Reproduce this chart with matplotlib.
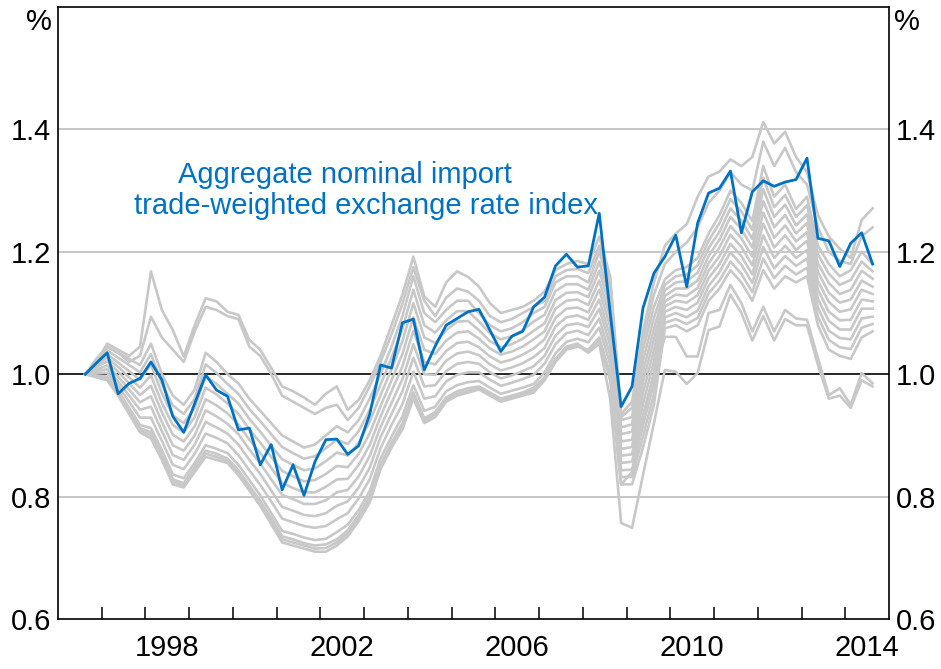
import matplotlib
matplotlib.use('Agg')
import matplotlib.pyplot as plt
import numpy as np
import pandas as pd

plt.rcParams['font.family'] = ['Liberation Sans', 'DejaVu Sans']

# Quarterly observations, 1996Q3 - 2014Q3
quarters = pd.period_range('1996Q3', '2014Q3', freq='Q')

blue = [1.000, 1.018, 1.035, 0.968, 0.985, 0.993, 1.020, 0.991, 0.931, 0.905,
        0.952, 0.999, 0.974, 0.964, 0.909, 0.912, 0.852, 0.885, 0.811, 0.852,
        0.802, 0.857, 0.893, 0.894, 0.869, 0.883, 0.934, 1.015, 1.010, 1.084,
        1.090, 1.007, 1.046, 1.080, 1.091, 1.102, 1.106, 1.072, 1.037, 1.062,
        1.070, 1.110, 1.126, 1.177, 1.196, 1.175, 1.177, 1.263, 1.100, 0.947,
        0.980, 1.108, 1.165, 1.192, 1.227, 1.143, 1.247, 1.296, 1.304, 1.332,
        1.231, 1.298, 1.316, 1.307, 1.314, 1.318, 1.353, 1.222, 1.218, 1.176,
        1.214, 1.231, 1.180]

s1 = [1.000, 1.020, 1.050, 1.040, 1.030, 1.045, 1.168, 1.105, 1.072, 1.029,
      1.080, 1.124, 1.119, 1.102, 1.097, 1.056, 1.040, 1.010, .980, .972,
      .962, .950, .968, .980, .942, .958, .990, 1.030, 1.080, 1.130,
      1.192, 1.127, 1.110, 1.150, 1.168, 1.159, 1.143, 1.116, 1.100, 1.105,
      1.110, 1.120, 1.135, 1.170, 1.180, 1.185, 1.180, 1.225, 1.160, .935,
      .955, 1.070, 1.150, 1.210, 1.230, 1.245, 1.290, 1.323, 1.331, 1.351,
      1.340, 1.355, 1.412, 1.377, 1.396, 1.355, 1.330, 1.260, 1.225, 1.205,
      1.190, 1.252, 1.271]

s2 = [1.000, 1.020, 1.045, 1.035, 1.020, 1.030, 1.094, 1.060, 1.040, 1.020,
      1.070, 1.110, 1.105, 1.095, 1.090, 1.045, 1.030, 1.000, .965, .955,
      .945, .935, .945, .950, .925, .945, .980, 1.020, 1.065, 1.115,
      1.175, 1.120, 1.095, 1.125, 1.140, 1.135, 1.120, 1.095, 1.085, 1.090,
      1.100, 1.110, 1.120, 1.160, 1.170, 1.172, 1.165, 1.210, 1.150, .930,
      .945, 1.055, 1.130, 1.180, 1.200, 1.215, 1.240, 1.280, 1.300, 1.330,
      1.310, 1.300, 1.380, 1.340, 1.370, 1.330, 1.310, 1.240, 1.200, 1.185,
      1.180, 1.225, 1.240]

la = [1.000, .997, .993, .970, .940, .912, .905, .868, .828, .822,
      .848, .875, .870, .862, .843, .818, .793, .765, .735, .730,
      .724, .720, .722, .730, .745, .770, .800, .852, .888, .920,
      .970, .928, .938, .962, .972, .977, .980, .970, .960, .965,
      .970, .978, .995, 1.025, 1.045, 1.050, 1.037, 1.056, .990, .820,
      .840, .920, 1.000, 1.061, 1.061, 1.029, 1.029, 1.100, 1.105, 1.146,
      1.116, 1.070, 1.110, 1.070, 1.105, 1.091, 1.089, 1.026, .966, .977,
      .950, 1.002, .985]

lb = [1.000, .996, .992, .968, .938, .908, .900, .864, .824, .818,
      .844, .870, .865, .858, .839, .814, .789, .760, .730, .725,
      .720, .715, .716, .725, .740, .765, .795, .848, .884, .915,
      .965, .924, .934, .958, .968, .973, .977, .967, .957, .962,
      .967, .974, .992, 1.022, 1.042, 1.047, 1.035, 1.050, .960, .757,
      .749, .835, .920, 1.007, 1.004, .984, 1.002, 1.072, 1.078, 1.130,
      1.100, 1.055, 1.095, 1.055, 1.090, 1.080, 1.080, 1.015, .960, .965,
      .945, .990, .980]

b0 = [1.000, .995, .990, .965, .935, .905, .895, .860, .820, .815,
      .840, .865, .860, .855, .835, .810, .785, .755, .725, .720,
      .715, .710, .710, .720, .735, .760, .790, .845, .880, .910,
      .960, .920, .930, .955, .965, .970, .975, .965, .955, .960,
      .965, .970, .990, 1.020, 1.040, 1.045, 1.040, 1.060, 1.000, .820,
      .820, .880, .950, 1.075, 1.080, 1.070, 1.080, 1.120, 1.140, 1.170,
      1.150, 1.120, 1.170, 1.140, 1.160, 1.150, 1.160, 1.080, 1.040, 1.030,
      1.025, 1.060, 1.070]

b1 = [1.000, .998, .996, .973, .945, .917, .912, .876, .836, .830,
      .855, .884, .878, .871, .852, .827, .802, .773, .744, .739,
      .733, .729, .731, .742, .754, .778, .809, .862, .898, .931,
      .982, .940, .947, .972, .982, .987, .989, .978, .968, .973,
      .978, .984, 1.003, 1.034, 1.053, 1.058, 1.052, 1.076, 1.016, .832,
      .832, .898, .968, 1.084, 1.090, 1.082, 1.092, 1.132, 1.153, 1.184,
      1.164, 1.134, 1.189, 1.157, 1.177, 1.163, 1.174, 1.094, 1.056, 1.044,
      1.041, 1.076, 1.082]

b2 = [1.000, 1.002, 1.002, .981, .955, .929, .929, .891, .852, .845,
      .870, .903, .896, .887, .868, .843, .819, .792, .764, .758,
      .752, .749, .752, .763, .773, .797, .828, .879, .917, .951,
      1.004, .960, .964, .988, .999, 1.003, 1.003, .991, .981, .986,
      .992, .999, 1.017, 1.049, 1.067, 1.071, 1.064, 1.091, 1.031, .843,
      .844, .916, .986, 1.093, 1.100, 1.093, 1.104, 1.144, 1.167, 1.199,
      1.179, 1.149, 1.208, 1.173, 1.193, 1.177, 1.189, 1.109, 1.071, 1.059,
      1.057, 1.091, 1.094]

b3 = [1.000, 1.005, 1.008, .988, .965, .942, .947, .907, .868, .860,
      .885, .922, .913, .903, .885, .860, .837, .810, .783, .777,
      .770, .768, .773, .785, .792, .815, .847, .897, .935, .972,
      1.027, .980, .982, 1.005, 1.017, 1.020, 1.017, 1.003, .993, .998,
      1.005, 1.013, 1.030, 1.063, 1.080, 1.083, 1.077, 1.107, 1.047, .855,
      .857, .933, 1.003, 1.102, 1.110, 1.105, 1.117, 1.157, 1.180, 1.213,
      1.193, 1.163, 1.227, 1.190, 1.210, 1.190, 1.203, 1.123, 1.087, 1.073,
      1.073, 1.107, 1.107]

b4 = [1.000, 1.008, 1.014, .996, .975, .954, .964, .922, .884, .875,
      .900, .941, .931, .919, .902, .877, .854, .828, .803, .796,
      .788, .788, .794, .807, .811, .833, .866, .914, .953, .992,
      1.049, 1.000, .999, 1.022, 1.034, 1.037, 1.031, 1.016, 1.006, 1.011,
      1.018, 1.028, 1.043, 1.078, 1.093, 1.096, 1.089, 1.122, 1.062, .867,
      .869, .951, 1.021, 1.111, 1.120, 1.117, 1.129, 1.169, 1.193, 1.228,
      1.208, 1.178, 1.246, 1.207, 1.227, 1.203, 1.218, 1.138, 1.102, 1.088,
      1.089, 1.122, 1.119]

b5 = [1.000, 1.012, 1.021, 1.004, .985, .966, .981, .938, .901, .890,
      .915, .959, .949, .936, .918, .893, .871, .847, .822, .814,
      .807, .807, .816, .828, .829, .852, .884, .931, .972, 1.013,
      1.071, 1.020, 1.016, 1.038, 1.051, 1.053, 1.044, 1.029, 1.019, 1.024,
      1.032, 1.042, 1.057, 1.092, 1.107, 1.109, 1.101, 1.138, 1.078, .878,
      .881, .969, 1.039, 1.119, 1.130, 1.128, 1.141, 1.181, 1.207, 1.242,
      1.222, 1.192, 1.264, 1.223, 1.243, 1.217, 1.232, 1.152, 1.118, 1.102,
      1.106, 1.138, 1.131]

b6 = [1.000, 1.015, 1.027, 1.012, .995, .978, .998, .953, .917, .905,
      .930, .978, .967, .952, .935, .910, .888, .865, .842, .833,
      .825, .827, .837, .850, .848, .870, .903, .948, .990, 1.033,
      1.093, 1.040, 1.033, 1.055, 1.068, 1.070, 1.058, 1.042, 1.032, 1.037,
      1.045, 1.057, 1.070, 1.107, 1.120, 1.122, 1.113, 1.153, 1.093, .890,
      .893, .987, 1.057, 1.128, 1.140, 1.140, 1.153, 1.193, 1.220, 1.257,
      1.237, 1.207, 1.283, 1.240, 1.260, 1.230, 1.247, 1.167, 1.133, 1.117,
      1.122, 1.153, 1.143]

b7 = [1.000, 1.018, 1.033, 1.019, 1.005, .991, 1.016, .969, .933, .920,
      .945, .997, .984, .968, .952, .927, .906, .883, .861, .852,
      .843, .846, .858, .872, .867, .888, .922, .966, 1.008, 1.054,
      1.116, 1.060, 1.051, 1.072, 1.086, 1.087, 1.072, 1.054, 1.044, 1.049,
      1.058, 1.071, 1.083, 1.121, 1.133, 1.134, 1.126, 1.169, 1.109, .902,
      .906, 1.004, 1.074, 1.137, 1.150, 1.152, 1.166, 1.206, 1.233, 1.271,
      1.251, 1.221, 1.302, 1.257, 1.277, 1.243, 1.261, 1.181, 1.149, 1.131,
      1.138, 1.169, 1.156]

b8 = [1.000, 1.022, 1.039, 1.027, 1.015, 1.003, 1.033, .984, .949, .935,
      .960, 1.016, 1.002, .984, .968, .943, .923, .902, .881, .871,
      .862, .866, .879, .893, .886, .907, .941, .983, 1.027, 1.074,
      1.138, 1.080, 1.068, 1.088, 1.103, 1.103, 1.086, 1.067, 1.057, 1.062,
      1.072, 1.086, 1.097, 1.136, 1.147, 1.147, 1.138, 1.184, 1.124, .913,
      .918, 1.022, 1.092, 1.146, 1.160, 1.163, 1.178, 1.218, 1.247, 1.286,
      1.266, 1.236, 1.321, 1.273, 1.293, 1.257, 1.276, 1.196, 1.164, 1.146,
      1.154, 1.184, 1.168]

b9 = [1.000, 1.025, 1.045, 1.035, 1.025, 1.015, 1.050, 1.000, .965, .950,
      .975, 1.035, 1.020, 1.000, .985, .960, .940, .920, .900, .890,
      .880, .885, .900, .915, .905, .925, .960, 1.000, 1.045, 1.095,
      1.160, 1.100, 1.085, 1.105, 1.120, 1.120, 1.100, 1.080, 1.070, 1.075,
      1.085, 1.100, 1.110, 1.150, 1.160, 1.160, 1.150, 1.200, 1.140, .925,
      .930, 1.040, 1.110, 1.155, 1.170, 1.175, 1.190, 1.230, 1.260, 1.300,
      1.280, 1.250, 1.340, 1.290, 1.310, 1.270, 1.290, 1.210, 1.180, 1.160,
      1.170, 1.200, 1.180]

grey_series = [s1, s2, la, lb, b0, b1, b2, b3, b4, b5, b6, b7, b8, b9]

year_labels = ['1998', '2002', '2006', '2010', '2014']
y_ticks = [0.6, 0.8, 1.0, 1.2, 1.4]
y_labels = ['0.6', '0.8', '1.0', '1.2', '1.4']
annotation = ['Aggregate nominal import', 'trade-weighted exchange rate index']

# ---- drawing ----
t = np.asarray(quarters.year + (quarters.quarter - 1) * 0.25 + 0.125, dtype=float)

W, H = 941, 669
fig = plt.figure(figsize=(W / 100, H / 100), dpi=100)
ax = fig.add_axes([58 / W, 50 / H, 831 / W, 612 / H])
ax.set_xlim(1996, 2015)
ax.set_ylim(0.6, 1.6)

for yv in [0.8, 1.2, 1.4]:
    ax.axhline(yv, color='#bdbdbd', lw=1.2, zorder=1)
ax.axhline(1.0, color='black', lw=1.2, zorder=1)

for g in grey_series:
    ax.plot(t, g, color='#c8c8c8', lw=1.9, zorder=2)
ax.plot(t, blue, color='#0072C6', lw=2.0, zorder=3)

fs = 21
ax.set_xticks([int(l) + 0.5 for l in year_labels])
ax.set_xticklabels(year_labels, fontsize=fs)
ax.set_xticks(np.arange(1997, 2015), minor=True)
ax.tick_params(axis='x', which='major', length=0, pad=11)
ax.tick_params(axis='x', which='minor', direction='in', length=8.5, width=1.1, color='black')

ax.set_yticks(y_ticks)
ax.set_yticklabels(y_labels, fontsize=fs)
ax.tick_params(axis='y', which='both', length=0, pad=5, labelleft=True, labelright=True)

for sp in ax.spines.values():
    sp.set_linewidth(1.2)
    sp.set_color('black')

fig.text(52 / W, 1 - 22 / H, '%', fontsize=fs, ha='right', va='center')
fig.text(894 / W, 1 - 22 / H, '%', fontsize=fs, ha='left', va='center')

fig.text(345 / W, 1 - 175 / H, annotation[0], fontsize=fs, color='#0072C6', ha='center', va='center')
fig.text(366 / W, 1 - 206 / H, annotation[1], fontsize=fs, color='#0072C6', ha='center', va='center')

fig.savefig('out.png', dpi=100)
